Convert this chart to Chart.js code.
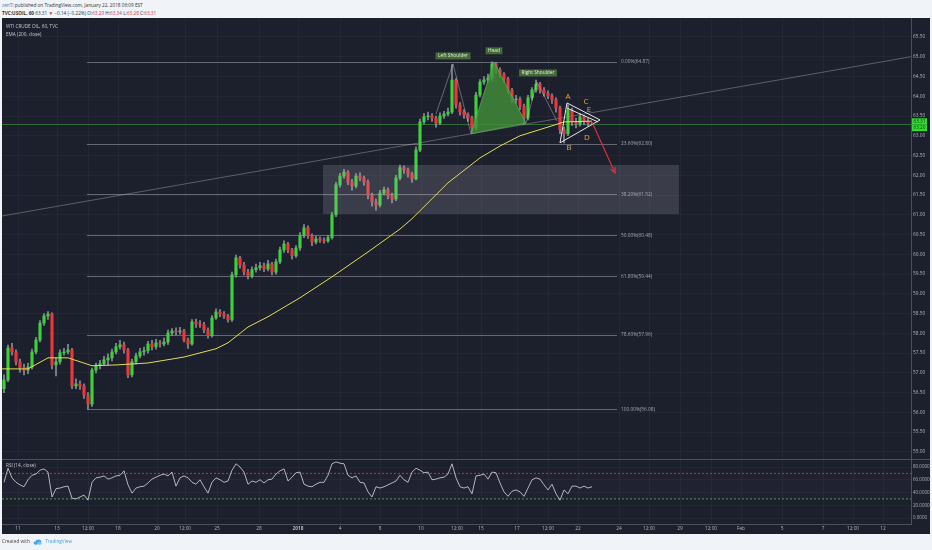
<!DOCTYPE html>
<html>
<head>
<meta charset="utf-8">
<script src="https://cdn.jsdelivr.net/npm/chart.js@4.4.1/dist/chart.umd.min.js"></script>
<style>
  body { margin: 0; width: 932px; height: 550px; overflow: hidden; position: relative; background: #f0f3f7; font-family: "Open Sans", Roboto, sans-serif; }
  .t { position: absolute; white-space: nowrap; font-size: 4.7px; line-height: 6px; color: #333; }
  .red { color: #e0313b; }
  #panel { position: absolute; left: 2px; top: 18px; width: 928px; height: 516px; background: #1c1f2c; }
  #panel canvas { position: absolute; left: 0; }
  .pt { position: absolute; white-space: nowrap; font-size: 4.7px; line-height: 6px; color: #c6c9d1; }
</style>
</head>
<body>
<div class="t" style="left:2px;top:2px"><span style="color:#2f7fd0">zenTi</span> published on TradingView.com, January 22, 2018 06:09 EST</div>
<div class="t" style="left:2px;top:10px"><b>TVC:USOIL, 60</b> 63.31 <span class="red">&#9660;</span> &minus;0.14 (&minus;0.22%) O:<span class="red">63.29</span> H:<span class="red">63.34</span> L:<span class="red">63.28</span> C:<span class="red">63.31</span></div>

<div id="panel">
  <canvas id="price" width="928" height="441" style="top:0"></canvas>
  <canvas id="rsi" width="928" height="75" style="top:441px"></canvas>
  <div class="pt" style="left:4px;top:5px">WTI CRUDE OIL, 60, TVC</div>
  <div class="pt" style="left:4px;top:13px">EMA (200, close)</div>
  <div class="pt" style="left:4px;top:444px">RSI (14, close)</div>
</div>

<div class="t" style="left:2px;top:538px;color:#444">Created with
  <svg width="9" height="6" viewBox="0 0 18 12" style="vertical-align:middle;margin:0 2px"><ellipse cx="6" cy="8" rx="5" ry="3.5" fill="#45a8e8"/><ellipse cx="11" cy="5.5" rx="5.5" ry="4.5" fill="#45a8e8"/><ellipse cx="13" cy="8.5" rx="4.5" ry="3" fill="#7cc4f0"/></svg>
  <span style="color:#3fa4e6">TradingView</span></div>

<script>
// 60 min candles, grouped 4 px per bar as seen in the picture
const closes = [
  56.82, 57.63, 57.53, 57.28, 57.13, 57.07, 57.15, 57.53, 57.83, 58.26,
  58.44, 58.49, 57.20, 57.28, 57.51, 57.53, 57.58, 56.67, 56.72, 56.67,
  56.44, 56.21, 57.07, 57.18, 57.23, 57.33, 57.38, 57.53, 57.66, 57.71,
  57.58, 56.95, 57.28, 57.43, 57.53, 57.56, 57.73, 57.66, 57.76, 57.73,
  57.78, 58.01, 58.06, 58.04, 58.06, 57.83, 57.73, 58.29, 58.24, 58.22,
  58.09, 57.94, 58.39, 58.54, 58.49, 58.44, 58.34, 59.48, 59.91, 59.73,
  59.55, 59.45, 59.61, 59.66, 59.71, 59.63, 59.76, 59.55, 59.81, 60.11,
  60.26, 60.11, 59.96, 60.16, 60.47, 60.67, 60.47, 60.31, 60.39, 60.36,
  60.34, 60.42, 61.00, 61.76, 61.98, 62.08, 61.83, 61.73, 61.98, 61.93,
  61.83, 61.50, 61.33, 61.25, 61.55, 61.63, 61.48, 61.40, 61.93, 62.19,
  62.14, 62.03, 61.91, 62.64, 63.35, 63.48, 63.50, 63.45, 63.32, 63.50,
  63.55, 63.60, 64.41, 63.78, 63.60, 63.53, 63.45, 63.20, 64.03, 64.36,
  64.41, 64.46, 64.82, 64.67, 64.56, 64.44, 64.16, 63.91, 63.93, 63.75,
  63.45, 63.96, 64.16, 64.31, 64.16, 64.08, 64.01, 63.91, 63.70, 63.15,
  63.05, 63.65, 63.35, 63.30, 63.48, 63.37, 63.32, 63.31
];
const highs = [
  56.95, 57.70, 57.75, 57.58, 57.35, 57.22, 57.25, 57.60, 57.90, 58.32,
  58.50, 58.55, 58.52, 57.38, 57.58, 57.62, 57.72, 57.62, 56.85, 56.80,
  56.72, 56.50, 57.12, 57.25, 57.32, 57.42, 57.48, 57.60, 57.75, 57.82,
  57.78, 57.62, 57.35, 57.50, 57.62, 57.65, 57.80, 57.82, 57.85, 57.82,
  57.88, 58.08, 58.12, 58.14, 58.15, 58.10, 57.88, 58.35, 58.36, 58.32,
  58.28, 58.14, 58.45, 58.62, 58.60, 58.55, 58.48, 59.55, 59.98, 59.95,
  59.80, 59.62, 59.68, 59.75, 59.80, 59.78, 59.85, 59.80, 59.88, 60.18,
  60.34, 60.30, 60.15, 60.22, 60.55, 60.75, 60.72, 60.52, 60.46, 60.44,
  60.42, 60.48, 61.06, 61.82, 62.05, 62.15, 62.12, 61.90, 62.04, 62.06,
  61.98, 61.88, 61.55, 61.40, 61.62, 61.70, 61.68, 61.55, 62.00, 62.26,
  62.24, 62.18, 62.08, 62.72, 63.42, 63.56, 63.60, 63.56, 63.50, 63.58,
  63.62, 63.70, 64.80, 64.45, 63.84, 63.66, 63.58, 63.50, 64.10, 64.42,
  64.50, 64.56, 64.87, 64.85, 64.72, 64.60, 64.48, 64.20, 64.02, 63.98,
  63.80, 64.02, 64.22, 64.41, 64.35, 64.22, 64.14, 64.06, 63.96, 63.75,
  63.22, 63.78, 63.70, 63.45, 63.56, 63.52, 63.44, 63.34
];
const lows = [
  56.50, 56.78, 57.45, 57.20, 57.02, 56.95, 56.98, 57.10, 57.48, 57.78,
  58.20, 58.35, 57.10, 56.92, 57.22, 57.45, 57.48, 56.60, 56.60, 56.58,
  56.35, 56.08, 56.15, 57.00, 57.10, 57.18, 57.20, 57.30, 57.48, 57.60,
  57.50, 56.88, 56.90, 57.22, 57.38, 57.45, 57.50, 57.58, 57.60, 57.65,
  57.68, 57.72, 57.95, 57.96, 57.98, 57.78, 57.62, 57.70, 58.15, 58.15,
  58.02, 57.88, 57.90, 58.35, 58.42, 58.38, 58.28, 58.30, 59.42, 59.65,
  59.48, 59.38, 59.40, 59.55, 59.60, 59.56, 59.58, 59.48, 59.50, 59.76,
  60.05, 60.04, 59.88, 59.92, 60.10, 60.42, 60.40, 60.22, 60.26, 60.30,
  60.28, 60.30, 60.38, 60.95, 61.70, 61.92, 61.76, 61.62, 61.68, 61.86,
  61.75, 61.40, 61.22, 61.12, 61.20, 61.50, 61.40, 61.30, 61.36, 61.88,
  62.05, 61.95, 61.82, 61.88, 62.60, 63.30, 63.40, 63.36, 63.22, 63.28,
  63.44, 63.50, 63.56, 63.70, 63.52, 63.44, 63.36, 63.05, 63.15, 63.98,
  64.30, 64.35, 64.40, 64.58, 64.48, 64.35, 64.08, 63.84, 63.82, 63.66,
  63.30, 63.40, 63.90, 64.10, 64.08, 64.00, 63.94, 63.82, 63.60, 63.05,
  62.82, 63.00, 63.26, 63.20, 63.24, 63.28, 63.24, 63.28
];
const firstOpen = 56.60;

const rsiValues = [
  56, 78, 63, 56, 52, 49, 60, 67, 69, 75,
  77, 72, 33, 46, 47, 49, 50, 31, 30, 33,
  36, 28, 56, 63, 64, 66, 61, 63, 66, 67,
  74, 52, 39, 47, 49, 50, 55, 61, 64, 67,
  69, 66, 72, 50, 63, 66, 63, 56, 53, 60,
  49, 39, 56, 63, 60, 56, 58, 75, 85, 80,
  72, 53, 58, 56, 60, 55, 60, 61, 69, 74,
  77, 58, 64, 71, 72, 53, 50, 49, 53, 56,
  56, 67, 85, 88, 86, 85, 67, 63, 66, 56,
  55, 41, 33, 49, 47, 49, 52, 55, 58, 67,
  60, 56, 72, 78, 75, 71, 72, 60, 61, 63,
  64, 69, 85, 63, 49, 47, 49, 38, 66, 67,
  69, 61, 72, 71, 55, 41, 34, 42, 44, 41,
  34, 47, 60, 63, 61, 52, 44, 53, 38, 28,
  44, 38, 50, 50, 47, 50, 47, 49
];

// EMA (200)
const emaBars   = [-0.5, 6, 11, 16, 22, 28, 36, 45, 53, 56, 61, 66, 74, 82, 91, 99, 102, 111, 119, 124, 129, 136, 140, 147];
const emaValues = [57.10, 57.10, 57.38, 57.38, 57.18, 57.20, 57.25, 57.40, 57.61, 57.76, 58.16, 58.42, 58.90, 59.43, 60.06, 60.64, 60.90, 61.81, 62.44, 62.74, 63.00, 63.22, 63.35, 63.37];

// time axis (bar positions, weekends skipped)
const tickBars   = [3.5, 13.25, 21, 28.5, 38.25, 45.25, 53.25, 63.75, 73.5, 84, 94, 104.25, 113.25, 119.25, 128.25, 136, 143.5, 153.75, 161.25, 169, 176.75, 184.25, 194.5, 204.75, 212.25, 219.75];
const tickLabels = ['11', '13', '12:00', '18', '20', '12:00', '25', '28', '2018', '4', '8', '10', '12:00', '15', '17', '12:00', '22', '24', '12:00', '29', '12:00', 'Feb', '5', '7', '12:00', '12'];

const priceTicks = [55, 55.5, 56, 56.5, 57, 57.5, 58, 58.5, 59, 59.5, 60, 60.5, 61, 61.5, 62, 62.5, 63, 63.5, 64, 64.5, 65, 65.5];
const rsiTicks = [0, 20, 40, 60, 80];

// fibonacci retracement
const fibLevels = [0, 0.236, 0.382, 0.5, 0.618, 0.786, 1];
const fibPrices = [64.87, 62.80, 61.52, 60.48, 59.44, 57.96, 56.08];
const fibFromBar = 20.75, fibToBar = 153.25;

// drawings
const zoneBars = [79.75, 168.75], zonePrices = [61.02, 62.26];
const trendBars = [-0.5, 226.75], trendPrices = [60.97, 65.0];
const lastPrice = 63.31, emaLabel = 63.20;
const leftShoulder  = [[108, 63.55], [112.25, 64.82], [116.75, 63.05]];
const headPts       = [[116.75, 63.05], [122.5, 64.87], [130.5, 63.32]];
const rightShoulder = [[130.5, 63.32], [133.25, 64.36], [138.25, 63.37]];
const hsLabels = [['Left Shoulder', 112.25, 65.02], ['Head', 122.5, 65.15], ['Right Shoulder', 133.5, 64.59]];
const triLines = [
  [[140.75, 63.83], [149, 63.40]],
  [[140.75, 63.70], [148.5, 63.35]],
  [[139, 62.82], [149, 63.40]],
  [[139, 62.82], [140.75, 63.83]]
];
const triLetters = [['A', 141, 63.98], ['B', 141.25, 62.69], ['C', 145.5, 63.86], ['D', 145.75, 62.95], ['E', 146.25, 63.65]];
const arrowPts = [[147, 63.35], [152.75, 62.06]];

const xMin = -0.5, xMax = 226.75;
const upColor = '#3fcf3f', downColor = '#e8383d';
const axisText = '#b2b5be';
const gridColor = 'rgba(255,255,255,0.035)';
const font = "'Open Sans', Roboto, sans-serif";

const opens = closes.map((c, i) => i === 0 ? firstOpen : closes[i - 1]);
const candleColors = closes.map((c, i) => c >= opens[i] ? upColor : downColor);

function line(ctx, pts) {
  ctx.beginPath();
  pts.forEach((p, i) => i ? ctx.lineTo(p[0], p[1]) : ctx.moveTo(p[0], p[1]));
  ctx.stroke();
}

// no label padding, so the plot area fills the canvas exactly
function noPad(s) {
  s.paddingTop = 0; s.paddingBottom = 0; s.paddingLeft = 0; s.paddingRight = 0;
}

const overlay = {
  id: 'overlay',
  beforeDatasetsDraw(chart) {
    const { ctx, chartArea: a, scales: { x, y } } = chart;
    ctx.save();
    ctx.beginPath(); ctx.rect(a.left, a.top, a.width, a.height); ctx.clip();
    // fib lines
    ctx.strokeStyle = 'rgba(150,153,162,0.6)';
    ctx.lineWidth = 1;
    fibPrices.forEach(p => {
      const yy = Math.round(y.getPixelForValue(p)) + 0.5;
      line(ctx, [[x.getPixelForValue(fibFromBar), yy], [x.getPixelForValue(fibToBar), yy]]);
    });
    ctx.font = '4.8px ' + font;
    ctx.fillStyle = '#a3a6af';
    ctx.textBaseline = 'middle';
    fibLevels.forEach((l, i) => {
      ctx.fillText((l * 100).toFixed(2) + '%(' + fibPrices[i].toFixed(2) + ')', x.getPixelForValue(fibToBar) + 4, y.getPixelForValue(fibPrices[i]));
    });
    // last price line
    ctx.strokeStyle = 'rgba(70,170,70,0.55)';
    const ly = Math.round(y.getPixelForValue(lastPrice)) + 0.5;
    line(ctx, [[a.left, ly], [a.right, ly]]);
    // trend line
    ctx.strokeStyle = 'rgba(175,178,186,0.55)';
    ctx.lineWidth = 0.8;
    line(ctx, trendBars.map((b, i) => [x.getPixelForValue(b), y.getPixelForValue(trendPrices[i])]));
    ctx.restore();
  },
  afterDatasetsDraw(chart) {
    const { ctx, chartArea: a, scales: { x, y } } = chart;
    const P = p => [x.getPixelForValue(p[0]), y.getPixelForValue(p[1])];
    ctx.save();
    ctx.beginPath(); ctx.rect(a.left, a.top, a.width, a.height); ctx.clip();
    // zone
    const zx0 = x.getPixelForValue(zoneBars[0]), zx1 = x.getPixelForValue(zoneBars[1]);
    const zy0 = y.getPixelForValue(zonePrices[1]), zy1 = y.getPixelForValue(zonePrices[0]);
    ctx.fillStyle = 'rgba(178,181,192,0.2)';
    ctx.fillRect(zx0, zy0, zx1 - zx0, zy1 - zy0);
    // head and shoulders
    ctx.strokeStyle = 'rgba(200,203,210,0.55)';
    ctx.lineWidth = 0.8;
    line(ctx, leftShoulder.map(P));
    line(ctx, rightShoulder.map(P));
    ctx.fillStyle = 'rgba(66,145,58,0.8)';
    ctx.beginPath();
    headPts.map(P).forEach((p, i) => i ? ctx.lineTo(p[0], p[1]) : ctx.moveTo(p[0], p[1]));
    ctx.closePath();
    ctx.fill();
    ctx.strokeStyle = 'rgba(90,180,80,0.9)';
    ctx.stroke();
    ctx.font = '4.8px ' + font;
    ctx.textAlign = 'center';
    ctx.textBaseline = 'middle';
    hsLabels.forEach(([t, b, p]) => {
      const [cx, cy] = P([b, p]);
      const w = ctx.measureText(t).width + 5;
      ctx.fillStyle = 'rgba(72,112,56,0.92)';
      ctx.fillRect(cx - w / 2, cy - 3.5, w, 7);
      ctx.fillStyle = '#e4ecdc';
      ctx.fillText(t, cx, cy);
    });
    // triangle
    ctx.strokeStyle = '#e8e9ec';
    ctx.lineWidth = 1;
    triLines.forEach(l => line(ctx, l.map(P)));
    ctx.font = '8px ' + font;
    ctx.fillStyle = '#eda53c';
    triLetters.forEach(([t, b, p]) => { const [cx, cy] = P([b, p]); ctx.fillText(t, cx, cy); });
    // arrow
    const [a0, a1] = arrowPts.map(P);
    ctx.strokeStyle = '#e0353d';
    ctx.lineWidth = 1.1;
    line(ctx, [a0, a1]);
    const ang = Math.atan2(a1[1] - a0[1], a1[0] - a0[0]);
    line(ctx, [[a1[0] - 6 * Math.cos(ang - 0.45), a1[1] - 6 * Math.sin(ang - 0.45)], a1, [a1[0] - 6 * Math.cos(ang + 0.45), a1[1] - 6 * Math.sin(ang + 0.45)]]);
    ctx.restore();
  },
  afterDraw(chart) {
    const { ctx, chartArea: a, scales: { y } } = chart;
    ctx.save();
    ctx.font = '4.7px ' + font;
    ctx.textBaseline = 'middle';
    const y0 = y.getPixelForValue(lastPrice) - 2;
    [[lastPrice, y0], [emaLabel, y0 + 6.5]].forEach(([v, cy]) => {
      ctx.fillStyle = '#2fdc2f';
      ctx.fillRect(a.right + 1, cy - 3.2, 15, 6.4);
      ctx.fillStyle = '#0f3d12';
      ctx.fillText(v.toFixed(2), a.right + 2.5, cy);
    });
    ctx.restore();
  }
};

new Chart(document.getElementById('price'), {
  type: 'bar',
  data: {
    datasets: [
      {
        type: 'line', label: 'EMA',
        data: emaBars.map((b, i) => ({ x: b, y: emaValues[i] })),
        borderColor: '#e3de55', borderWidth: 1, pointRadius: 0, tension: 0, order: 1
      },
      {
        label: 'body',
        data: closes.map((c, i) => ({ x: i, y: [opens[i], c] })),
        backgroundColor: candleColors, barThickness: 2.5, grouped: false, order: 2
      },
      {
        label: 'wick',
        data: highs.map((h, i) => ({ x: i, y: [lows[i], h] })),
        backgroundColor: '#9a9ea8', barThickness: 0.8, grouped: false, order: 3
      }
    ]
  },
  options: {
    responsive: false,
    animation: false,
    layout: { padding: 0 },
    plugins: { legend: { display: false }, tooltip: { enabled: false } },
    scales: {
      x: {
        type: 'linear', min: xMin, max: xMax, offset: false,
        afterBuildTicks: s => { s.ticks = tickBars.map(v => ({ value: v })); },
        afterFit: s => { s.height = 0; noPad(s); },
        ticks: { display: false },
        grid: { color: gridColor, drawTicks: false, offset: false },
        border: { display: false }
      },
      y: {
        position: 'right', min: 54.82, max: 65.98,
        afterBuildTicks: s => { s.ticks = priceTicks.map(v => ({ value: v })); },
        afterFit: s => { s.width = 19; noPad(s); },
        ticks: { color: axisText, font: { size: 4.8, family: font }, padding: 2, callback: v => v.toFixed(2) },
        grid: { color: gridColor, drawTicks: false },
        border: { color: '#4c505c' }
      }
    }
  },
  plugins: [overlay]
});

new Chart(document.getElementById('rsi'), {
  type: 'line',
  data: {
    datasets: [
      {
        label: 'RSI',
        data: rsiValues.map((v, i) => ({ x: i, y: v })),
        borderColor: '#d8dade', borderWidth: 0.8, pointRadius: 0, tension: 0
      },
      {
        label: 'upper',
        data: [{ x: xMin, y: 70 }, { x: xMax, y: 70 }],
        borderColor: '#d3303f', borderWidth: 1, borderDash: [2, 2], pointRadius: 0,
        fill: { value: 30 }, backgroundColor: 'rgba(150,150,205,0.035)'
      },
      {
        label: 'lower',
        data: [{ x: xMin, y: 30 }, { x: xMax, y: 30 }],
        borderColor: '#3fa63f', borderWidth: 1, borderDash: [2, 2], pointRadius: 0
      }
    ]
  },
  options: {
    responsive: false,
    animation: false,
    layout: { padding: 0 },
    plugins: { legend: { display: false }, tooltip: { enabled: false } },
    scales: {
      x: {
        type: 'linear', min: xMin, max: xMax, offset: false,
        afterBuildTicks: s => { s.ticks = tickBars.map(v => ({ value: v })); },
        afterFit: s => { s.height = 10; noPad(s); },
        ticks: {
          color: axisText, autoSkip: false, maxRotation: 0, padding: 2,
          font: c => ({ size: 4.8, family: font, weight: c.tick && c.tick.label === '2018' ? '700' : '400' }),
          callback: (v, i) => tickLabels[i]
        },
        grid: { color: gridColor, drawTicks: false, offset: false },
        border: { color: '#4c505c' }
      },
      y: {
        position: 'right', min: -9.41, max: 92.55,
        afterBuildTicks: s => { s.ticks = rsiTicks.map(v => ({ value: v })); },
        afterFit: s => { s.width = 19; noPad(s); },
        ticks: { color: axisText, font: { size: 4.5, family: font }, padding: 2, callback: v => v.toFixed(4) },
        grid: { color: gridColor, drawTicks: false },
        border: { color: '#4c505c' }
      }
    }
  },
  plugins: [{
    id: 'sep',
    afterDraw(chart) {
      const { ctx } = chart;
      ctx.save();
      ctx.strokeStyle = '#4c505c';
      ctx.lineWidth = 1;
      line(ctx, [[0, 0.5], [chart.width, 0.5]]);
      ctx.restore();
    }
  }]
});
</script>
</body>
</html>
